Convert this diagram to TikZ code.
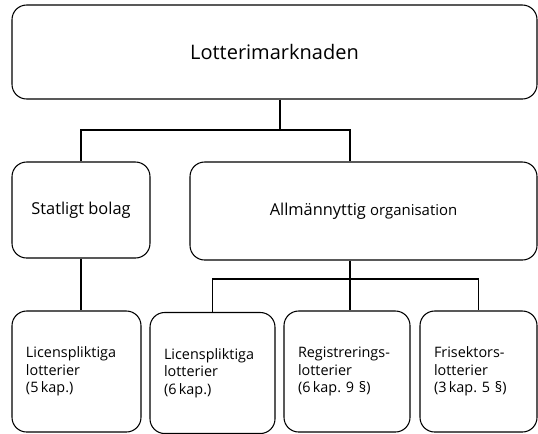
\documentclass[tikz,border=0pt]{standalone}
\usepackage{fontspec}
\setmainfont{Open Sans}
\usepackage{tikz}
\frenchspacing

\tikzset{
  box/.style={draw, line width=0.8pt, rounded corners=11pt, inner sep=0pt},
  lottbox/.style={box, minimum height=90.75pt, inner xsep=10.5pt, align=left,
    font=\fontsize{10.8}{13.1}\selectfont},
  conn/.style={line width=0.8pt}
}

\begin{document}
\begin{tikzpicture}[x=0.75pt,y=0.75pt,yscale=-1]
\useasboundingbox (0,0) rectangle (538,433);

% Text Node
\node [box, minimum width=393.75pt, minimum height=70.5pt, font=\fontsize{15}{18}\selectfont] (market) at (274.5,52) {Lotterimarknaden};
% Text Node
\node [box, minimum width=103.5pt, minimum height=72pt, font=\fontsize{12.3}{15}\selectfont] (state) at (81,210) {Statligt bolag};
% Text Node
\node [box, minimum width=260.25pt, minimum height=73.5pt, font=\fontsize{12.3}{15}\selectfont] (org) at (363.5,211) {Allmännyttig {\fontsize{11.2}{14}\selectfont organisation}};
% Text Node
\node [lottbox, text width=75.75pt] (lic5) at (76.5,371.5) {Licenspliktiga\\lotterier\\(5\,kap.)};
% Text Node
\node [lottbox, text width=72.75pt] (lic6) at (212.5,373) {Licenspliktiga\\lotterier\\(6\,kap.)};
% Text Node
\node [lottbox, text width=73.5pt] (reg) at (347,371.5) {Registrerings-\\lotterier\\(6\,kap. 9 §)};
% Text Node
\node [lottbox, text width=66.75pt] (fri) at (478.5,371.5) {Frisektors-\\lotterier\\(3\,kap. 5 §)};

\coordinate (top split) at (280,130);
\coordinate (org split) at (350,279);

% Connection
\draw [conn] (market.south -| top split) -- (top split);
% Connection
\draw [conn] (top split) -| (state.north);
% Connection
\draw [conn] (top split) -| (org.north -| org split);
% Connection
\draw [conn] (state.south) -- (state.south |- lic5.north);
% Connection
\draw [conn] (org.south -| org split) -- (org split);
% Connection
\draw [conn] (org split) -| (lic6.north);
% Connection
\draw [conn] (org split) -- (org split |- reg.north);
% Connection
\draw [conn] (org split) -| (fri.north);

\end{tikzpicture}
\end{document}
